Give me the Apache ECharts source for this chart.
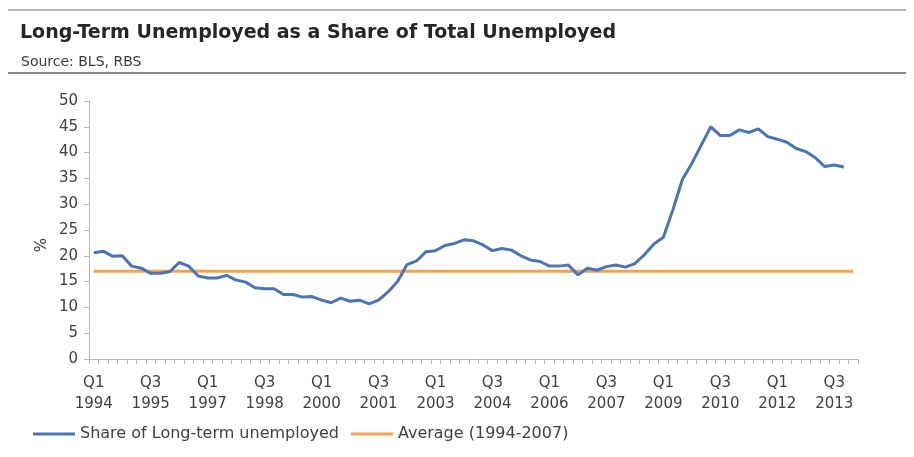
<!DOCTYPE html>
<html>
<head>
<meta charset="utf-8">
<script src="https://cdn.jsdelivr.net/npm/echarts@6/dist/echarts.min.js"></script>
<style>
  html, body { margin: 0; padding: 0; background: #fff; }
  #main { width: 914px; height: 457px; }
</style>
</head>
<body>
<div id="main"></div>
<script>
// quarters Q1 1994 .. Q1 2014 (last slot only carries the average line)
var firstYear = 1994;
var quarters = [];
for (var i = 0; i < 81; i++) {
	quarters.push('Q' + (i % 4 + 1) + ' ' + (firstYear + Math.floor(i / 4)));
}

// Share of long-term unemployed, %, Q1 1994 .. Q4 2013
var shareLongTerm = [
	20.6, 20.9, 19.9, 20.0, 18.0, 17.6, 16.6, 16.6, 16.9, 18.7, 18.0, 16.1, 15.7, 15.7,
	16.2, 15.3, 14.9, 13.8, 13.6, 13.6, 12.5, 12.5, 12.0, 12.1, 11.4, 10.9,
	11.8, 11.2, 11.4, 10.7, 11.4, 13.0, 15.0, 18.3, 19.0, 20.8, 21.0, 22.0, 22.4, 23.1,
	22.9, 22.1, 21.0, 21.4, 21.1, 20.0, 19.2, 18.9, 18.0, 18.0, 18.2, 16.3, 17.6, 17.2,
	17.9, 18.2, 17.8, 18.5, 20.2, 22.3, 23.6, 28.9, 34.8, 37.9, 41.5, 45.0, 43.3,
	43.3, 44.4, 43.9, 44.6, 43.1, 42.6, 42.0, 40.8, 40.2, 39.0, 37.3, 37.6, 37.2
];

// average 1994-2007, %
var average9407 = 17.0;

var yTicks = [0, 5, 10, 15, 20, 25, 30, 35, 40, 45, 50];

var FONT = 'DejaVu Sans';
var textColor = '#404040';

var option = {
	backgroundColor: '#fff',
	animation: false,
	textStyle: { fontFamily: FONT },
	title: [
		{
			text: 'Long-Term Unemployed as a Share of Total Unemployed',
			left: 15,
			top: 19,
			textStyle: { fontFamily: FONT, fontSize: 19, fontWeight: 'bold', color: '#262626' }
		},
		{
			text: 'Source: BLS, RBS',
			left: 16,
			top: 50,
			textStyle: { fontFamily: FONT, fontSize: 14, fontWeight: 'normal', color: '#3a3a3a' }
		}
	],
	graphic: [
		{ type: 'line', shape: { x1: 8, y1: 10, x2: 906, y2: 10 }, style: { stroke: '#a0a0a0', lineWidth: 1.5 } },
		{ type: 'line', shape: { x1: 8, y1: 73, x2: 906, y2: 73 }, style: { stroke: '#8a8a8a', lineWidth: 2 } },
		{
			type: 'text',
			x: 42,
			y: 245,
			rotation: Math.PI / 2,
			style: {
				text: '%',
				font: '15px "DejaVu Sans"',
				fill: textColor,
				textAlign: 'center',
				textVerticalAlign: 'middle'
			}
		}
	],
	legend: {
		left: 28,
		top: 421,
		itemWidth: 42,
		itemHeight: 3,
		itemGap: 12,
		icon: 'rect',
		textStyle: { fontFamily: FONT, fontSize: 16, color: textColor },
		data: ['Share of Long-term unemployed', 'Average (1994-2007)']
	},
	grid: {
		left: 89,
		right: 56,
		top: 101,
		bottom: 98
	},
	xAxis: {
		type: 'category',
		data: quarters,
		boundaryGap: true,
		axisLine: { lineStyle: { color: '#b8b8b8', width: 1 } },
		axisTick: { show: true, interval: 0, length: 5, lineStyle: { color: '#b8b8b8' } },
		axisLabel: {
			interval: 5,
			margin: 14,
			fontFamily: FONT,
			fontSize: 15,
			lineHeight: 21,
			color: textColor,
			formatter: function (v) { return v.replace(' ', '\n'); }
		},
		splitLine: { show: false }
	},
	yAxis: {
		type: 'value',
		min: yTicks[0],
		max: yTicks[yTicks.length - 1],
		interval: 5,
		axisLine: { show: true, lineStyle: { color: '#b8b8b8', width: 1 } },
		axisTick: { show: true, length: 5, lineStyle: { color: '#b8b8b8' } },
		axisLabel: { fontFamily: FONT, fontSize: 15, color: textColor, margin: 11 },
		splitLine: { show: false }
	},
	series: [
		{
			name: 'Share of Long-term unemployed',
			type: 'line',
			data: shareLongTerm,
			showSymbol: false,
			symbol: 'none',
			color: '#4a74b5',
			lineStyle: { width: 3, color: '#4a74b5' },
			z: 3
		},
		{
			name: 'Average (1994-2007)',
			type: 'line',
			data: quarters.map(function () { return average9407; }),
			showSymbol: false,
			symbol: 'none',
			color: '#f8a24e',
			lineStyle: { width: 3, color: '#f8a24e' },
			z: 2
		}
	]
};

var chart = echarts.init(document.getElementById('main'));
chart.setOption(option);
</script>
</body>
</html>
